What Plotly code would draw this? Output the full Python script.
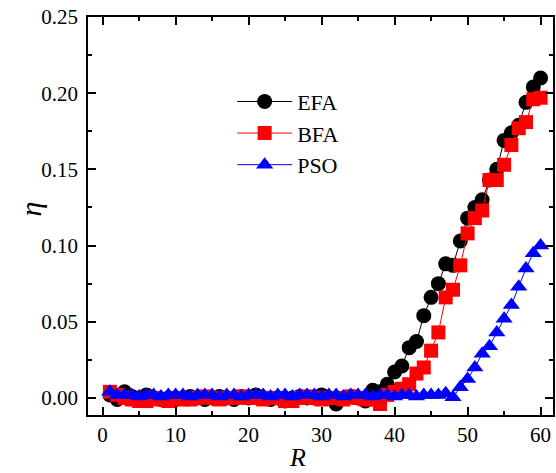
import plotly.graph_objects as go

R = list(range(1, 61))

efa = [0.002, -0.001, 0.004, 0.001, 0.000, 0.002, 0.000, -0.001, 0.000, -0.001,
       0.000, 0.001, 0.000, -0.001, 0.000, 0.001, 0.000, -0.001, 0.001, 0.000,
       0.002, 0.000, -0.001, 0.000, -0.002, 0.000, 0.001, 0.000, 0.000, 0.002,
       0.000, -0.004, 0.000, 0.001, 0.000, -0.002, 0.005, 0.004, 0.009, 0.017,
       0.021, 0.033, 0.037, 0.054, 0.066, 0.075, 0.088, 0.087, 0.103, 0.118,
       0.125, 0.130, 0.143, 0.150, 0.169, 0.174, 0.179, 0.194, 0.204, 0.210]

bfa = [0.004, 0.002, 0.000, -0.001, -0.002, -0.002, 0.000, -0.001, -0.002, 0.000,
       -0.001, -0.001, 0.000, 0.001, 0.000, -0.001, 0.000, 0.000, 0.001, 0.000,
       0.000, -0.001, 0.000, 0.000, -0.002, -0.002, 0.000, 0.001, 0.000, -0.001,
       0.000, 0.000, -0.001, 0.001, 0.000, -0.001, -0.001, -0.004, 0.002, 0.004,
       0.006, 0.009, 0.016, 0.020, 0.031, 0.043, 0.066, 0.071, 0.087, 0.108,
       0.118, 0.123, 0.143, 0.143, 0.153, 0.166, 0.177, 0.181, 0.196, 0.197]

pso = [0.004, 0.002, 0.002, 0.002, 0.001, 0.002, 0.002, 0.001, 0.002, 0.002,
       0.002, 0.001, 0.002, 0.002, 0.002, 0.001, 0.002, 0.002, 0.001, 0.002,
       0.002, 0.002, 0.001, 0.002, 0.002, 0.001, 0.002, 0.002, 0.002, 0.001,
       0.002, 0.002, 0.001, 0.002, 0.002, 0.002, 0.001, 0.002, 0.002, 0.001,
       0.002, 0.002, 0.001, 0.002, 0.002, 0.002, 0.003, 0.0005, 0.007, 0.0125,
       0.020, 0.029, 0.034, 0.043, 0.052, 0.061, 0.073, 0.085, 0.095, 0.100]

x_ticks = [0, 10, 20, 30, 40, 50, 60]
y_ticks = [0.00, 0.05, 0.10, 0.15, 0.20, 0.25]
y_tick_text = ["0.00", "0.05", "0.10", "0.15", "0.20", "0.25"]

font = "Liberation Serif, Times New Roman, serif"

fig = go.Figure()
fig.add_trace(go.Scatter(x=R, y=efa, name="EFA", mode="lines+markers",
                         line=dict(color="black", width=1),
                         marker=dict(symbol="circle", size=15, color="black")))
fig.add_trace(go.Scatter(x=R, y=bfa, name="BFA", mode="lines+markers",
                         line=dict(color="#ff0000", width=1),
                         marker=dict(symbol="square", size=14, color="#ff0000")))
fig.add_trace(go.Scatter(x=R, y=pso, name="PSO", mode="lines+markers",
                         line=dict(color="#0000ff", width=1),
                         marker=dict(symbol="triangle-up", size=15, color="#0000ff")))

axis_common = dict(showline=True, linecolor="black", linewidth=1.5, mirror="allticks",
                   ticks="inside", ticklen=8, tickwidth=1.5, tickcolor="black",
                   showgrid=False, zeroline=False,
                   tickfont=dict(family=font, size=21, color="black"))

fig.update_xaxes(range=[-2.0, 61.7], tickvals=x_ticks,
                 minor=dict(ticks="inside", ticklen=4, tickwidth=1.5, dtick=5, tick0=0,
                            tickcolor="black", showgrid=False),
                 **axis_common)
fig.update_yaxes(range=[-0.0112, 0.25], tickvals=y_ticks, ticktext=y_tick_text,
                 ticklabelstandoff=4,
                 minor=dict(ticks="inside", ticklen=4, tickwidth=1.5, dtick=0.025, tick0=0,
                            tickcolor="black", showgrid=False),
                 **axis_common)

# axis titles placed as annotations (reference puts R left of centre)
fig.add_annotation(text="<i>R</i>", xref="paper", yref="paper", x=0.45, y=-0.108,
                   xanchor="center", yanchor="middle", showarrow=False,
                   font=dict(family=font, size=26, color="black"))
fig.add_annotation(text="<i>η</i>", xref="paper", yref="paper", x=-0.124, y=0.517,
                   xanchor="center", yanchor="middle", showarrow=False, textangle=-90,
                   font=dict(family=font, size=30, color="black"))

fig.update_layout(
    width=556, height=473,
    margin=dict(l=88, r=1, t=17, b=58),
    plot_bgcolor="white", paper_bgcolor="white",
    showlegend=True,
    legend=dict(x=0.31, y=0.84, xanchor="left", yanchor="top",
                bgcolor="rgba(0,0,0,0)", borderwidth=0,
                font=dict(family=font, size=22, color="black"),
                itemwidth=55, tracegroupgap=0),
)

# remove the default page margin so the figure sits at the window's origin
fig.write_html("out.html", config={"displayModeBar": False},
               post_script="document.body.style.margin='0';document.body.style.overflow='hidden';")
